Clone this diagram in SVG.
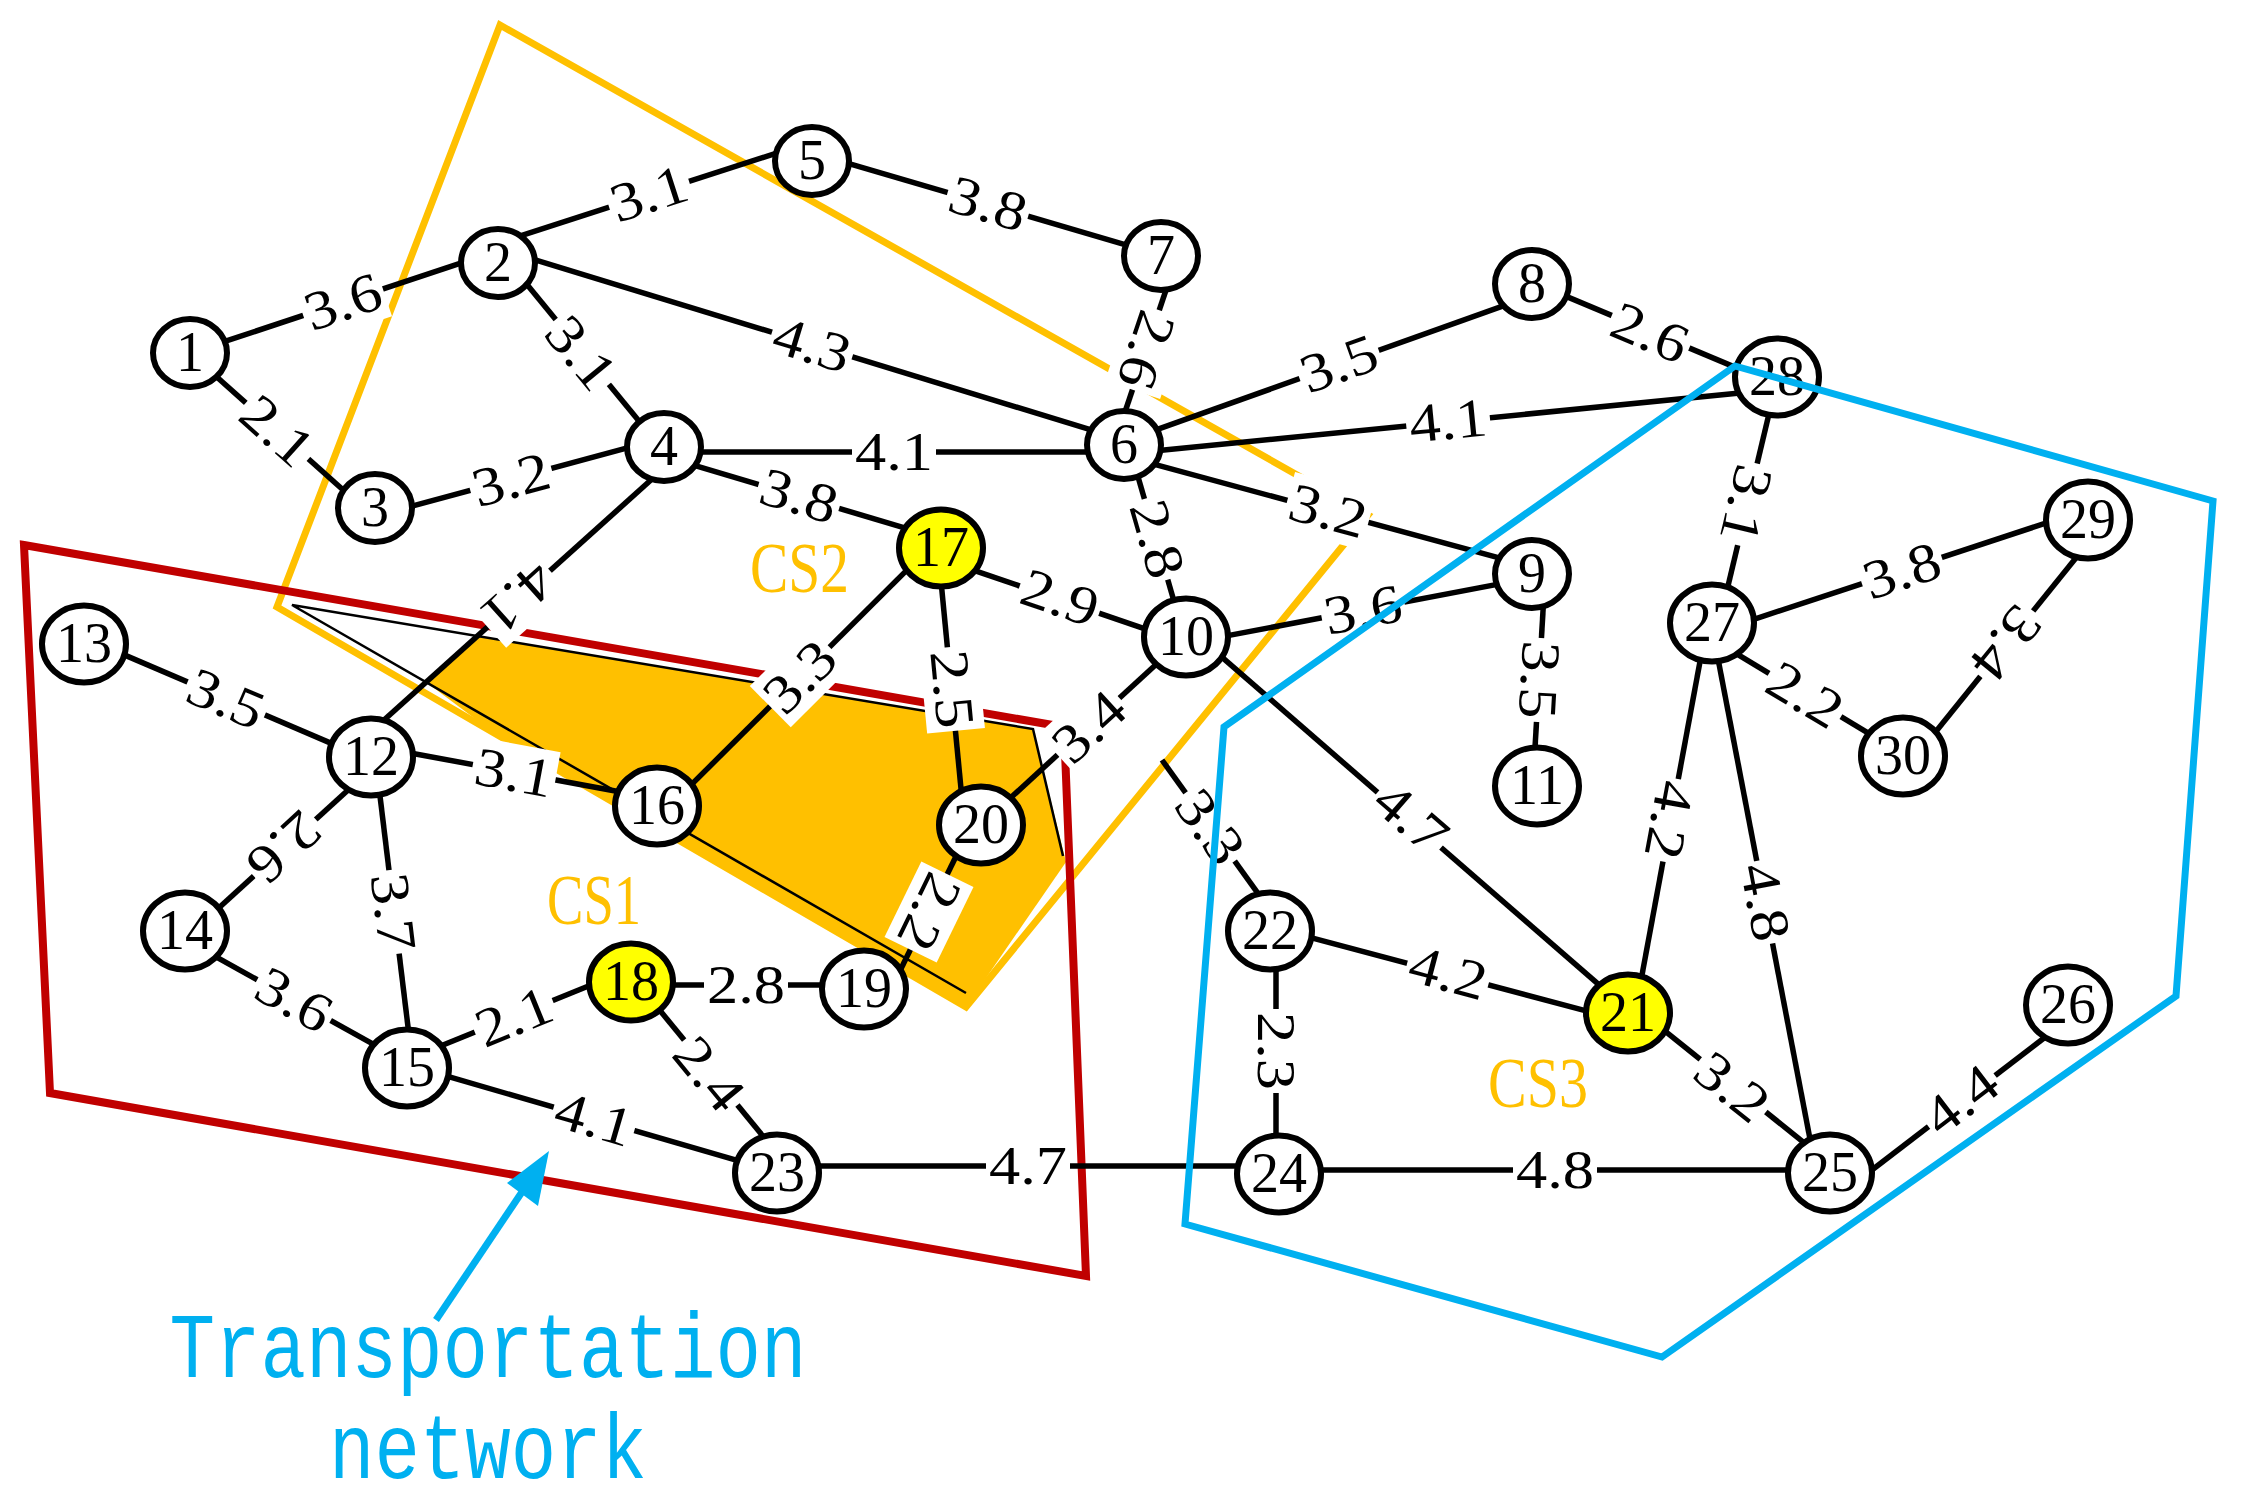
<svg xmlns="http://www.w3.org/2000/svg" width="2244" height="1503" viewBox="0 0 2244 1503">
<style>
.e line{stroke:#000;stroke-width:5.5;stroke-linecap:butt}
.lb{fill:#fff}
.lt{font-family:"Liberation Serif",serif;font-size:55px;fill:#000;text-anchor:middle}
.n ellipse{fill:#fff;stroke:#000;stroke-width:6}
.y ellipse{fill:#ffff00}
.nt{font-family:"Liberation Serif",serif;font-size:56px;fill:#000;text-anchor:middle}
.cs{font-family:"Liberation Serif",serif;font-size:72px;fill:#FFC000}
.tn{font-family:"Liberation Mono",monospace;font-size:92px;fill:#00B0F0;text-anchor:middle}
</style>
<rect width="2244" height="1503" fill="#fff"/>
<g id="regions">
<polygon points="477,636 1033,729 1066,862 966,1007 498,736 426,682" fill="#FFC000"/>
<polygon points="500,25 1368,515 966,1007 277,607" fill="none" stroke="#FFC000" stroke-width="7"/>
<polyline points="966,993 292,605 1033,729 1063,856" fill="none" stroke="#000" stroke-width="2.5"/>
<polygon points="24,545 1064,727 1086,1276 50,1093" fill="none" stroke="#C00000" stroke-width="8"/>
</g>
<g id="connectors" class="e">
<line x1="219.5" y1="343.2" x2="467.5" y2="260.9"/>
<line x1="211.5" y1="372.3" x2="348.5" y2="494.7"/>
<line x1="522.7" y1="279.3" x2="645.3" y2="428.7"/>
<line x1="516.5" y1="237.1" x2="783.5" y2="150.9"/>
<line x1="529.4" y1="258.1" x2="1097.6" y2="431.9"/>
<line x1="406.4" y1="507.6" x2="636.6" y2="445.4"/>
<line x1="690" y1="452" x2="1093" y2="452"/>
<line x1="683.4" y1="462.2" x2="914.6" y2="530.8"/>
<line x1="377.6" y1="725.7" x2="658.4" y2="473.3"/>
<line x1="840.4" y1="161.2" x2="1132.6" y2="246.8"/>
<line x1="1168.2" y1="283.5" x2="1122.8" y2="418.5"/>
<line x1="1154.6" y1="430.4" x2="1512.4" y2="302.6"/>
<line x1="1154" y1="451" x2="1750" y2="392"/>
<line x1="1147.3" y1="462.4" x2="1505.6" y2="559.6"/>
<line x1="1136.2" y1="470.4" x2="1175.8" y2="607.6"/>
<line x1="1560.8" y1="294.1" x2="1746.2" y2="371.9"/>
<line x1="1221.2" y1="636.9" x2="1503.8" y2="583.1"/>
<line x1="1543.6" y1="601" x2="1534.4" y2="758"/>
<line x1="969.5" y1="568.8" x2="1151.5" y2="631.2"/>
<line x1="981" y1="825" x2="1186" y2="637"/>
<line x1="1216.4" y1="652.4" x2="1604.6" y2="989.6"/>
<line x1="1162" y1="760" x2="1262.8" y2="900.1"/>
<line x1="117.8" y1="652.1" x2="337.2" y2="745.9"/>
<line x1="354.4" y1="784.3" x2="214.6" y2="911.7"/>
<line x1="378.8" y1="786.1" x2="410.2" y2="1044.9"/>
<line x1="406.2" y1="752.2" x2="624.8" y2="792.8"/>
<line x1="209.3" y1="953.2" x2="381.7" y2="1048.8"/>
<line x1="438.7" y1="1046.8" x2="595.3" y2="983.2"/>
<line x1="443.4" y1="1075.2" x2="745.6" y2="1162.8"/>
<line x1="685.9" y1="790.1" x2="912.1" y2="564.9"/>
<line x1="941" y1="581" x2="962" y2="799"/>
<line x1="665" y1="985" x2="830" y2="985"/>
<line x1="655.7" y1="1005.3" x2="768.3" y2="1142.7"/>
<line x1="965" y1="838" x2="895" y2="981"/>
<line x1="1302.3" y1="935.4" x2="1592.7" y2="1012.6"/>
<line x1="1658.2" y1="1025.7" x2="1809.8" y2="1147.3"/>
<line x1="1700.8" y1="657.2" x2="1640.2" y2="984.8"/>
<line x1="1276" y1="961" x2="1276" y2="1144"/>
<line x1="810" y1="1166" x2="1247" y2="1166"/>
<line x1="1311" y1="1170" x2="1799" y2="1170"/>
<line x1="1868" y1="1173" x2="2048" y2="1035"/>
<line x1="1718.1" y1="659.2" x2="1810.9" y2="1143.8"/>
<line x1="1770.3" y1="408.3" x2="1725.7" y2="595.7"/>
<line x1="1748.5" y1="621.1" x2="2052.5" y2="520.9"/>
<line x1="1733.4" y1="651.8" x2="1876.6" y2="738.2"/>
<line x1="2081.3" y1="551.2" x2="1931.7" y2="736.8"/>
</g>
<defs>
<rect id="bx" x="-42" y="-29" width="84" height="58" fill="#fff"/>
</defs>
<g id="labels">
<g transform="translate(343,302) rotate(-18.4)"><use href="#bx"/><text class="lt" y="18" textLength="78" lengthAdjust="spacingAndGlyphs">3.6</text></g>
<g transform="translate(277,431) rotate(41.8)"><use href="#bx"/><text class="lt" y="18" textLength="78" lengthAdjust="spacingAndGlyphs">2.1</text></g>
<g transform="translate(581,353) rotate(50.6)"><use href="#bx"/><text class="lt" y="18" textLength="78" lengthAdjust="spacingAndGlyphs">3.1</text></g>
<g transform="translate(649,194) rotate(-17.9)"><use href="#bx"/><text class="lt" y="18" textLength="78" lengthAdjust="spacingAndGlyphs">3.1</text></g>
<g transform="translate(812,345) rotate(17)"><use href="#bx"/><text class="lt" y="18" textLength="78" lengthAdjust="spacingAndGlyphs">4.3</text></g>
<g transform="translate(511,480) rotate(-15.1)"><use href="#bx"/><text class="lt" y="18" textLength="78" lengthAdjust="spacingAndGlyphs">3.2</text></g>
<g transform="translate(894,452)"><use href="#bx"/><text class="lt" y="18" textLength="78" lengthAdjust="spacingAndGlyphs">4.1</text></g>
<g transform="translate(799,496) rotate(16.5)"><use href="#bx"/><text class="lt" y="18" textLength="78" lengthAdjust="spacingAndGlyphs">3.8</text></g>
<g transform="translate(518,598) rotate(138)"><use href="#bx"/><text class="lt" y="18" textLength="78" lengthAdjust="spacingAndGlyphs">4.1</text></g>
<g transform="translate(988,204) rotate(16.3)"><use href="#bx"/><text class="lt" y="18" textLength="78" lengthAdjust="spacingAndGlyphs">3.8</text></g>
<g transform="translate(1146,350) rotate(108.6)"><use href="#bx"/><text class="lt" y="18" textLength="78" lengthAdjust="spacingAndGlyphs">2.6</text></g>
<g transform="translate(1339,364) rotate(-19.6)"><use href="#bx"/><text class="lt" y="18" textLength="78" lengthAdjust="spacingAndGlyphs">3.5</text></g>
<g transform="translate(1448,421) rotate(-5.6)"><use href="#bx"/><text class="lt" y="18" textLength="78" lengthAdjust="spacingAndGlyphs">4.1</text></g>
<g transform="translate(1328,511) rotate(15.2)"><use href="#bx"/><text class="lt" y="18" textLength="78" lengthAdjust="spacingAndGlyphs">3.2</text></g>
<g transform="translate(1157,539) rotate(73.9)"><use href="#bx"/><text class="lt" y="18" textLength="78" lengthAdjust="spacingAndGlyphs">2.8</text></g>
<g transform="translate(1650,333) rotate(22.7)"><use href="#bx"/><text class="lt" y="18" textLength="78" lengthAdjust="spacingAndGlyphs">2.6</text></g>
<g transform="translate(1363,610) rotate(-10.8)"><use href="#bx"/><text class="lt" y="18" textLength="78" lengthAdjust="spacingAndGlyphs">3.6</text></g>
<g transform="translate(1539,680) rotate(93.3)"><use href="#bx"/><text class="lt" y="18" textLength="78" lengthAdjust="spacingAndGlyphs">3.5</text></g>
<g transform="translate(1060,598) rotate(19)"><use href="#bx"/><text class="lt" y="18" textLength="78" lengthAdjust="spacingAndGlyphs">2.9</text></g>
<g transform="translate(1089,727) rotate(-42.5)"><use href="#bx"/><text class="lt" y="18" textLength="78" lengthAdjust="spacingAndGlyphs">3.4</text></g>
<g transform="translate(1411,818) rotate(41)"><use href="#bx"/><text class="lt" y="18" textLength="78" lengthAdjust="spacingAndGlyphs">4.7</text></g>
<g transform="translate(1210,827) rotate(54.3)"><use href="#bx"/><text class="lt" y="18" textLength="78" lengthAdjust="spacingAndGlyphs">3.3</text></g>
<g transform="translate(226,699) rotate(23.2)"><use href="#bx"/><text class="lt" y="18" textLength="78" lengthAdjust="spacingAndGlyphs">3.5</text></g>
<g transform="translate(284,847) rotate(137.6)"><use href="#bx"/><text class="lt" y="18" textLength="78" lengthAdjust="spacingAndGlyphs">2.6</text></g>
<g transform="translate(393,912) rotate(83.1)"><use href="#bx"/><text class="lt" y="18" textLength="78" lengthAdjust="spacingAndGlyphs">3.7</text></g>
<g transform="translate(514,773) rotate(10.5)"><use href="#bx"/><text class="lt" y="18" textLength="78" lengthAdjust="spacingAndGlyphs">3.1</text></g>
<g transform="translate(294,1000) rotate(29)"><use href="#bx"/><text class="lt" y="18" textLength="78" lengthAdjust="spacingAndGlyphs">3.6</text></g>
<g transform="translate(514,1017) rotate(-22.1)"><use href="#bx"/><text class="lt" y="18" textLength="78" lengthAdjust="spacingAndGlyphs">2.1</text></g>
<g transform="translate(594,1119) rotate(16.2)"><use href="#bx"/><text class="lt" y="18" textLength="78" lengthAdjust="spacingAndGlyphs">4.1</text></g>
<g transform="translate(800,677) rotate(-44.9)"><use href="#bx"/><text class="lt" y="18" textLength="78" lengthAdjust="spacingAndGlyphs">3.3</text></g>
<g transform="translate(952,689) rotate(84.5)"><use href="#bx"/><text class="lt" y="18" textLength="78" lengthAdjust="spacingAndGlyphs">2.5</text></g>
<g transform="translate(746,985)"><use href="#bx"/><text class="lt" y="18" textLength="78" lengthAdjust="spacingAndGlyphs">2.8</text></g>
<g transform="translate(709,1074) rotate(50.7)"><use href="#bx"/><text class="lt" y="18" textLength="78" lengthAdjust="spacingAndGlyphs">2.4</text></g>
<g transform="translate(929,912) rotate(116)"><use href="#bx"/><text class="lt" y="18" textLength="78" lengthAdjust="spacingAndGlyphs">2.2</text></g>
<g transform="translate(1448,973) rotate(14.9)"><use href="#bx"/><text class="lt" y="18" textLength="78" lengthAdjust="spacingAndGlyphs">4.2</text></g>
<g transform="translate(1732,1087) rotate(38.7)"><use href="#bx"/><text class="lt" y="18" textLength="78" lengthAdjust="spacingAndGlyphs">3.2</text></g>
<g transform="translate(1669,820) rotate(100.5)"><use href="#bx"/><text class="lt" y="18" textLength="78" lengthAdjust="spacingAndGlyphs">4.2</text></g>
<g transform="translate(1276,1051) rotate(90)"><use href="#bx"/><text class="lt" y="18" textLength="78" lengthAdjust="spacingAndGlyphs">2.3</text></g>
<g transform="translate(1028,1166)"><use href="#bx"/><text class="lt" y="18" textLength="78" lengthAdjust="spacingAndGlyphs">4.7</text></g>
<g transform="translate(1555,1170)"><use href="#bx"/><text class="lt" y="18" textLength="78" lengthAdjust="spacingAndGlyphs">4.8</text></g>
<g transform="translate(1961,1100) rotate(-37.5)"><use href="#bx"/><text class="lt" y="18" textLength="78" lengthAdjust="spacingAndGlyphs">4.4</text></g>
<g transform="translate(1765,902) rotate(79.2)"><use href="#bx"/><text class="lt" y="18" textLength="78" lengthAdjust="spacingAndGlyphs">4.8</text></g>
<g transform="translate(1746,504) rotate(103.4)"><use href="#bx"/><text class="lt" y="18" textLength="78" lengthAdjust="spacingAndGlyphs">3.1</text></g>
<g transform="translate(1902,571) rotate(-18.3)"><use href="#bx"/><text class="lt" y="18" textLength="78" lengthAdjust="spacingAndGlyphs">3.8</text></g>
<g transform="translate(1805,695) rotate(31.1)"><use href="#bx"/><text class="lt" y="18" textLength="78" lengthAdjust="spacingAndGlyphs">2.2</text></g>
<g transform="translate(2006,643) rotate(128.9)"><use href="#bx"/><text class="lt" y="18" textLength="78" lengthAdjust="spacingAndGlyphs">3.4</text></g>
</g>
<g id="nodes">
<g id="n1" class="n"><ellipse cx="190" cy="353" rx="37" ry="34"/><text class="nt" x="190" y="371">1</text></g>
<g id="n2" class="n"><ellipse cx="498" cy="263" rx="37" ry="34"/><text class="nt" x="498" y="281">2</text></g>
<g id="n3" class="n"><ellipse cx="375" cy="508" rx="37" ry="34"/><text class="nt" x="375" y="526">3</text></g>
<g id="n4" class="n"><ellipse cx="664" cy="447" rx="37" ry="34"/><text class="nt" x="664" y="465">4</text></g>
<g id="n5" class="n"><ellipse cx="812" cy="161" rx="37" ry="34"/><text class="nt" x="812" y="179">5</text></g>
<g id="n6" class="n"><ellipse cx="1124" cy="445" rx="37" ry="34"/><text class="nt" x="1124" y="463">6</text></g>
<g id="n7" class="n"><ellipse cx="1161" cy="256" rx="37" ry="34"/><text class="nt" x="1161" y="274">7</text></g>
<g id="n8" class="n"><ellipse cx="1532" cy="284" rx="37" ry="34"/><text class="nt" x="1532" y="302">8</text></g>
<g id="n9" class="n"><ellipse cx="1532" cy="574" rx="37" ry="34"/><text class="nt" x="1532" y="592">9</text></g>
<g id="n10" class="n"><ellipse cx="1186" cy="637" rx="42" ry="38.5"/><text class="nt" x="1186" y="655">10</text></g>
<g id="n11" class="n"><ellipse cx="1537" cy="786" rx="42" ry="38.5"/><text class="nt" x="1537" y="804">11</text></g>
<g id="n12" class="n"><ellipse cx="371" cy="757" rx="42" ry="38.5"/><text class="nt" x="371" y="775">12</text></g>
<g id="n13" class="n"><ellipse cx="84" cy="644" rx="42" ry="38.5"/><text class="nt" x="84" y="662">13</text></g>
<g id="n14" class="n"><ellipse cx="185" cy="931" rx="42" ry="38.5"/><text class="nt" x="185" y="949">14</text></g>
<g id="n15" class="n"><ellipse cx="407" cy="1068" rx="42" ry="38.5"/><text class="nt" x="407" y="1086">15</text></g>
<g id="n16" class="n"><ellipse cx="657" cy="806" rx="42" ry="38.5"/><text class="nt" x="657" y="824">16</text></g>
<g id="n17" class="n y"><ellipse cx="941" cy="548" rx="42" ry="38.5"/><text class="nt" x="941" y="566">17</text></g>
<g id="n18" class="n y"><ellipse cx="631" cy="982" rx="42" ry="38.5"/><text class="nt" x="631" y="1000">18</text></g>
<g id="n19" class="n"><ellipse cx="864" cy="989" rx="42" ry="38.5"/><text class="nt" x="864" y="1007">19</text></g>
<g id="n20" class="n"><ellipse cx="981" cy="825" rx="42" ry="38.5"/><text class="nt" x="981" y="843">20</text></g>
<g id="n21" class="n y"><ellipse cx="1628" cy="1013" rx="42" ry="38.5"/><text class="nt" x="1628" y="1031">21</text></g>
<g id="n22" class="n"><ellipse cx="1270" cy="931" rx="42" ry="38.5"/><text class="nt" x="1270" y="949">22</text></g>
<g id="n23" class="n"><ellipse cx="777" cy="1173" rx="42" ry="38.5"/><text class="nt" x="777" y="1191">23</text></g>
<g id="n24" class="n"><ellipse cx="1279" cy="1174" rx="42" ry="38.5"/><text class="nt" x="1279" y="1192">24</text></g>
<g id="n25" class="n"><ellipse cx="1830" cy="1173" rx="42" ry="38.5"/><text class="nt" x="1830" y="1191">25</text></g>
<g id="n26" class="n"><ellipse cx="2068" cy="1005" rx="42" ry="38.5"/><text class="nt" x="2068" y="1023">26</text></g>
<g id="n27" class="n"><ellipse cx="1712" cy="623" rx="42" ry="38.5"/><text class="nt" x="1712" y="641">27</text></g>
<g id="n28" class="n"><ellipse cx="1777" cy="377" rx="42" ry="38.5"/><text class="nt" x="1777" y="395">28</text></g>
<g id="n29" class="n"><ellipse cx="2088" cy="520" rx="42" ry="38.5"/><text class="nt" x="2088" y="538">29</text></g>
<g id="n30" class="n"><ellipse cx="1903" cy="756" rx="42" ry="38.5"/><text class="nt" x="1903" y="774">30</text></g>
</g>
<g id="cs3-region">
<polygon points="1735,366 2213,501 2176,996 1662,1357 1185,1224 1224,727" fill="none" stroke="#00B0F0" stroke-width="7"/>
</g>
<g id="annotations">
<text class="cs" x="547" y="924" textLength="94" lengthAdjust="spacingAndGlyphs">CS1</text>
<text class="cs" x="750" y="592" textLength="99" lengthAdjust="spacingAndGlyphs">CS2</text>
<text class="cs" x="1488" y="1107" textLength="100" lengthAdjust="spacingAndGlyphs">CS3</text>
<line x1="436" y1="1320" x2="528" y2="1183" stroke="#00B0F0" stroke-width="7"/>
<polygon points="549,1151 507,1183 538,1206" fill="#00B0F0"/>
<text class="tn" x="488" y="1377" textLength="637" lengthAdjust="spacingAndGlyphs">Transportation</text>
<text class="tn" x="488" y="1478" textLength="318" lengthAdjust="spacingAndGlyphs">network</text>
</g>
</svg>
